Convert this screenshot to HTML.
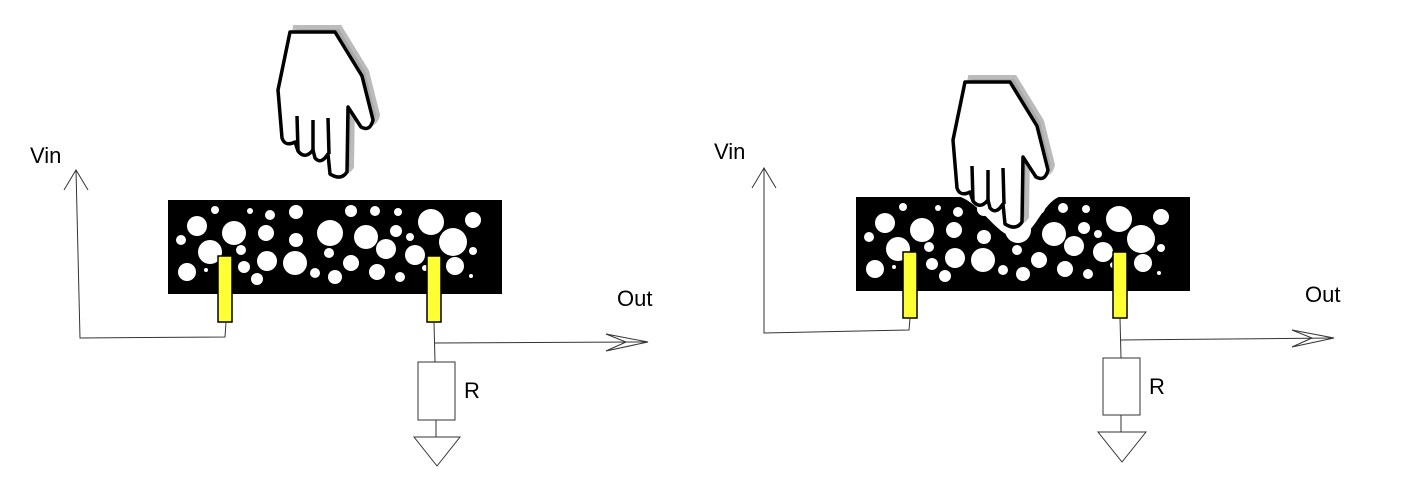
<!DOCTYPE html>
<html><head><meta charset="utf-8"><style>
html,body{margin:0;padding:0;background:#fff;width:1404px;height:489px;overflow:hidden}
text{font-family:"Liberation Sans","DejaVu Sans",sans-serif;font-size:22px;fill:#000}
</style></head><body>
<svg width="1404" height="489" viewBox="0 0 1404 489">
<defs>
<g id="bubbles">
<rect x="0" y="0" width="334" height="94" fill="#000"/>
<g fill="#fff">
<circle cx="47" cy="10" r="4"/><circle cx="29" cy="26" r="10"/><circle cx="13" cy="40" r="5"/>
<circle cx="42" cy="52" r="12"/><circle cx="19" cy="72" r="9"/><circle cx="38" cy="70" r="2"/>
<circle cx="66" cy="33" r="12"/><circle cx="73" cy="50" r="5"/><circle cx="76" cy="67" r="6"/>
<circle cx="82" cy="11" r="3"/><circle cx="102" cy="15" r="5"/><circle cx="98" cy="33" r="8"/>
<circle cx="99" cy="61" r="10"/><circle cx="89" cy="79" r="6"/><circle cx="128" cy="12" r="7"/>
<circle cx="128" cy="40" r="7"/><circle cx="127" cy="63" r="12"/><circle cx="147" cy="73" r="5"/>
<circle cx="162" cy="33" r="13"/><circle cx="161" cy="53" r="5"/><circle cx="167" cy="77" r="7"/>
<circle cx="183" cy="11" r="6"/><circle cx="183" cy="63" r="8"/><circle cx="198" cy="37" r="12"/>
<circle cx="207" cy="11" r="5"/><circle cx="209" cy="72" r="8"/><circle cx="218" cy="49" r="10"/>
<circle cx="228" cy="31" r="6"/><circle cx="230" cy="12" r="4"/><circle cx="232" cy="77" r="5"/>
<circle cx="242" cy="37" r="4"/><circle cx="247" cy="55" r="10"/><circle cx="263" cy="22" r="13"/>
<circle cx="285" cy="42" r="14"/><circle cx="287" cy="66" r="9"/><circle cx="305" cy="20" r="8"/>
<circle cx="305" cy="51" r="4"/><circle cx="303" cy="76" r="2"/><circle cx="257" cy="68" r="3"/>
</g>
</g>
<g id="hand">
<path d="M965,82 L1010,82 L1037,126 L1048,170 Q1045,182 1036,177 L1023,157 L1022,222 Q1016,231 1005,224 L1003,204 Q996,215 990,208 L988,200 Q980,210 973,201 L970,192 Q960,197 957,188 L953,140 Z" fill="#aaa" stroke="#bbb" stroke-width="4" transform="translate(5,-5)"/>
<path d="M965,82 L1010,82 L1037,126 L1048,170 Q1045,182 1036,177 L1023,157 L1022,222 Q1016,231 1005,224 L1003,204 Q996,215 990,208 L988,200 Q980,210 973,201 L970,192 Q960,197 957,188 L953,140 Z" fill="#fff" stroke="#000" stroke-width="3.5" stroke-linejoin="round"/>
<path d="M972,166 L973,201 M988,170 L988,200 M1003,168 L1004,204" stroke="#000" stroke-width="3.5" fill="none"/>
</g>
</defs>

<g>
<use href="#hand" transform="translate(-675,-50)"/>
<use href="#bubbles" transform="translate(168,200)"/>
<rect x="218" y="256" width="14" height="66" fill="#ffff33" stroke="#000" stroke-width="1.5"/>
<rect x="427" y="256" width="14" height="66" fill="#ffff33" stroke="#000" stroke-width="1.5"/>
<g stroke="#333" stroke-width="1" fill="none">
<path d="M226,322 L225,337 L80,338 L76,170"/>
<path d="M64,190 L76,170 L88,190"/>
<path d="M434,322 L435,362" />
<path d="M435,343 L648,342"/>
<path d="M606,334 L648,342 L606,351 L626,342 Z"/>
<rect x="418" y="362" width="37" height="58"/>
<path d="M436,420 L436,437"/>
<path d="M414,437 L460,437 L437,466 Z"/>
</g>
<text x="30" y="163">Vin</text>
<text x="617" y="306">Out</text>
<text x="464" y="398">R</text>
</g>

<g>
<use href="#bubbles" transform="translate(856,197)"/>
<path d="M950,195 C978,195 995,237 1016,237 C1037,237 1042,195 1068,195 Z" fill="#fff"/>
<use href="#hand"/>
<rect x="903" y="252" width="14" height="66" fill="#ffff33" stroke="#000" stroke-width="1.5"/>
<rect x="1113" y="252" width="14" height="66" fill="#ffff33" stroke="#000" stroke-width="1.5"/>
<g stroke="#333" stroke-width="1" fill="none">
<path d="M910,318 L909,330 L764,333 L764,168"/>
<path d="M752,188 L764,168 L776,188"/>
<path d="M1120,318 L1121,358"/>
<path d="M1121,340 L1334,338"/>
<path d="M1292,330 L1334,338 L1292,347 L1312,338 Z"/>
<rect x="1103" y="358" width="37" height="57"/>
<path d="M1121,415 L1121,432"/>
<path d="M1098,432 L1146,432 L1122,462 Z"/>
</g>
<text x="714" y="159">Vin</text>
<text x="1305" y="302">Out</text>
<text x="1149" y="394">R</text>
</g>
</svg>
</body></html>
